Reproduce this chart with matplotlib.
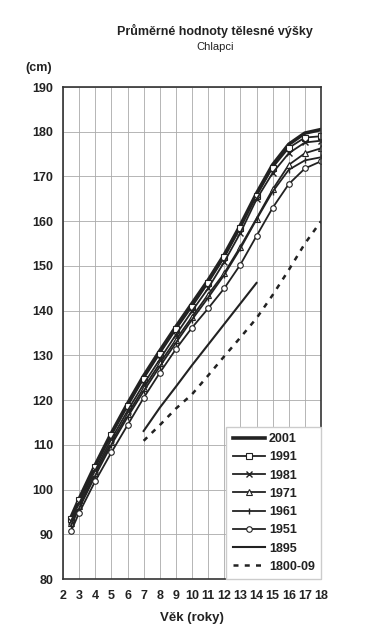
import matplotlib.pyplot as plt

# věk (roky)
vek = [2.5, 3, 4, 5, 6, 7, 8, 9, 10, 11, 12, 13, 14, 15, 16, 17, 18]

vyska_2001 = [93.8, 97.9, 105.5, 112.6, 119.2, 125.4, 131.0, 136.4, 141.6, 146.8, 152.5, 159.1, 166.2, 172.6, 177.2, 179.7, 180.5]
vyska_1991 = [93.5, 97.6, 105.1, 112.2, 118.6, 124.8, 130.4, 135.8, 140.9, 146.2, 151.9, 158.5, 165.7, 172.0, 176.4, 178.7, 179.0]
vyska_1981 = [93.0, 96.9, 104.3, 111.3, 117.6, 123.6, 129.1, 134.6, 139.9, 145.0, 150.9, 157.4, 164.9, 170.8, 175.2, 177.6, 178.0]
vyska_1971 = [92.5, 96.3, 103.7, 110.6, 116.8, 122.7, 128.2, 133.5, 138.6, 143.6, 148.4, 154.3, 160.6, 167.1, 172.6, 175.2, 176.3]
vyska_1961 = [92.0, 95.8, 103.1, 110.0, 116.2, 122.0, 127.5, 132.8, 138.0, 142.9, 148.0, 153.9, 160.4, 166.6, 171.5, 173.6, 174.3]
vyska_1951 = [90.7, 94.8, 101.9, 108.3, 114.4, 120.5, 126.1, 131.4, 136.2, 140.5, 145.0, 150.3, 156.7, 163.0, 168.3, 171.8, 173.4]

vek_1895 = [7, 8, 9, 10, 11, 12, 13, 14]
vyska_1895 = [113.1, 118.3, 123.0, 127.8, 132.4, 137.0, 141.6, 146.2]

vek_1800 = [7, 8, 9, 10, 11, 12, 13, 14, 15, 16, 17, 18]
vyska_1800 = [110.9, 114.4, 118.1, 121.3, 125.5, 129.8, 134.0, 138.3, 143.5, 149.1, 155.0, 160.0]

plt.rcParams['font.family'] = ['Liberation Sans', 'DejaVu Sans']
c = '#222222'

fig = plt.figure(figsize=(3.67, 6.4), dpi=100)
ax = fig.add_axes([0.1717, 0.0953, 0.703, 0.7687])

ax.plot(vek, vyska_2001, color=c, lw=2.6, label='2001')
ax.plot(vek, vyska_1991, color=c, lw=1.3, marker='s', ms=4, mfc='white', mec=c, mew=0.8, label='1991')
ax.plot(vek, vyska_1981, color=c, lw=1.3, marker='x', ms=4, mec=c, mew=1.0, label='1981')
ax.plot(vek, vyska_1971, color=c, lw=1.3, marker='^', ms=4, mfc='white', mec=c, mew=0.8, label='1971')
ax.plot(vek, vyska_1961, color=c, lw=1.3, marker='|', ms=5, mec=c, mew=1.0, label='1961')
ax.plot(vek, vyska_1951, color=c, lw=1.3, marker='o', ms=4, mfc='white', mec=c, mew=0.8, label='1951')
ax.plot(vek_1895, vyska_1895, color=c, lw=1.5, label='1895')
ax.plot(vek_1800, vyska_1800, color=c, lw=1.8, ls=(0, (2, 2.5)), label='1800-09')

ax.set_xlim(2, 18)
ax.set_ylim(80, 190)
ax.set_xticks(range(2, 19))
ax.set_yticks(range(80, 191, 10))
ax.grid(True, color='#aaaaaa', lw=0.6)
ax.set_axisbelow(True)
ax.tick_params(length=0, labelsize=9)
ax.tick_params(axis='y', pad=7)
ax.tick_params(axis='x', pad=8)
for lab in ax.get_xticklabels() + ax.get_yticklabels():
    lab.set_fontweight('bold')
    lab.set_color(c)
for s in ax.spines.values():
    s.set_color('#333333')
    s.set_linewidth(1.2)

ax.set_xlabel('Věk (roky)', fontsize=9.5, fontweight='bold', color=c, labelpad=7)

fig.text(0.585, 0.951, 'Průměrné hodnoty tělesné výšky', ha='center', va='center',
         fontsize=9, fontweight='bold', color=c)
fig.text(0.585, 0.926, 'Chlapci', ha='center', va='center', fontsize=8, color=c)
fig.text(0.105, 0.894, '(cm)', ha='center', va='center', fontsize=9, fontweight='bold', color=c)

leg = ax.legend(loc='lower right', bbox_to_anchor=(1.0, 0.0), borderaxespad=0,
                prop={'weight': 'bold', 'size': 9}, handlelength=2.6,
                labelspacing=0.5, borderpad=0.5, fancybox=False, framealpha=1,
                edgecolor='#cccccc', handletextpad=0.3)
for t in leg.get_texts():
    t.set_color(c)

fig.savefig('out.png', dpi=100)
